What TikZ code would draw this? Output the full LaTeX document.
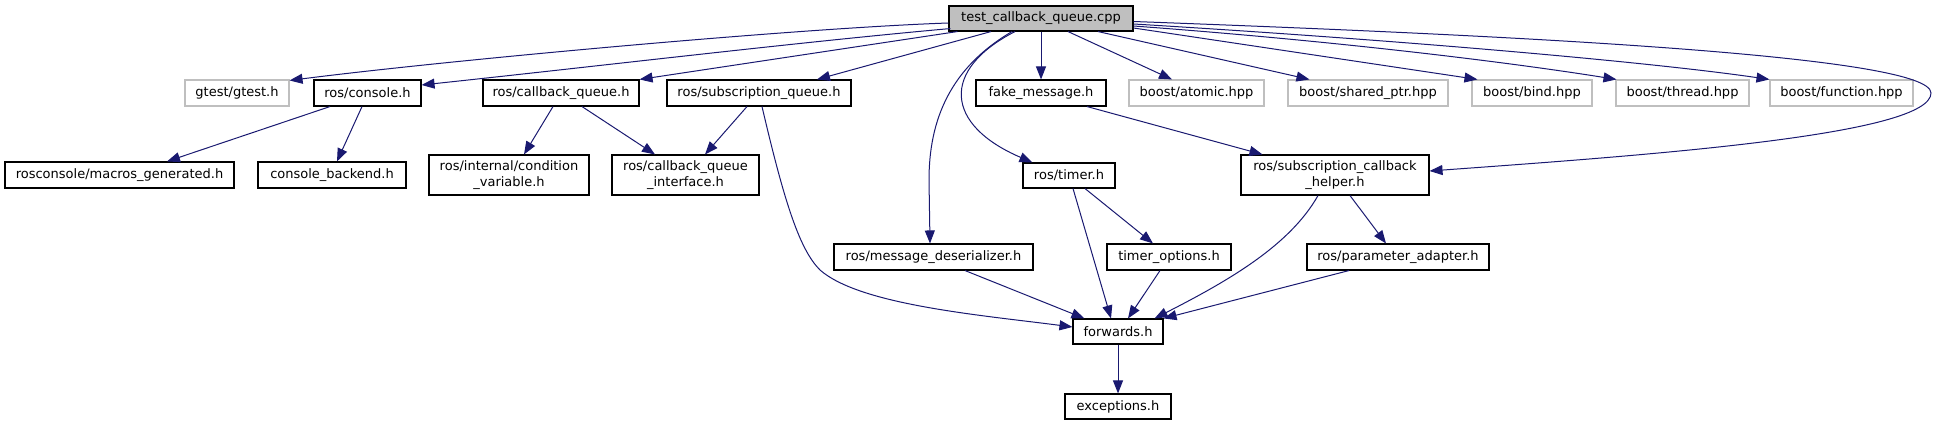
\documentclass[tikz,border=0pt]{standalone}
\usepackage{fontspec}
\setmainfont{DejaVu Sans}
\usetikzlibrary{arrows.meta}
\definecolor{edgec}{HTML}{191970}
\definecolor{grayb}{HTML}{BFBFBF}
\tikzset{
 box/.style={draw=black, line width=1.1pt, fill=white, minimum height=26pt, inner sep=0pt,
   font=\fontsize{13}{15.5}\selectfont, align=center, text=black},
 gbox/.style={box, draw=grayb},
 twol/.style={minimum height=40pt},
 edge/.style={draw=edgec, line width=1pt, -{Triangle[length=13pt,width=10pt]}},
}
\begin{document}
\begin{tikzpicture}[x=1pt,y=-1pt]
\useasboundingbox (0,0) rectangle (1937,425);
% nodes
\node[box, fill=grayb, minimum width=184pt, minimum height=25pt] (cpp) at (1041,18.5) {test\_callback\_queue.cpp};
\node[gbox, minimum width=104pt] (gtest) at (237,93) {gtest/gtest.h};
\node[box, minimum width=107pt] (console) at (367.5,93) {ros/console.h};
\node[box, minimum width=156pt] (cq) at (561,93) {ros/callback\_queue.h};
\node[box, minimum width=184pt] (subq) at (759,93) {ros/subscription\_queue.h};
\node[box, minimum width=130pt] (fake) at (1041,93) {fake\_message.h};
\node[gbox, minimum width=135pt] (atomic) at (1196.5,93) {boost/atomic.hpp};
\node[gbox, minimum width=160pt] (shared) at (1368,93) {boost/shared\_ptr.hpp};
\node[gbox, minimum width=120pt] (bind) at (1532,93) {boost/bind.hpp};
\node[gbox, minimum width=133pt] (thread) at (1682.5,93) {boost/thread.hpp};
\node[gbox, minimum width=143pt] (function) at (1841.5,93) {boost/function.hpp};
\node[box, minimum width=229pt] (macros) at (119.5,175) {rosconsole/macros\_generated.h};
\node[box, minimum width=148pt] (backend) at (332,175) {console\_backend.h};
\node[box, twol, minimum width=160pt] (condvar) at (509,175) {ros/internal/condition\\\_variable.h};
\node[box, twol, minimum width=147pt] (iface) at (685.5,175) {ros/callback\_queue\\\_interface.h};
\node[box, minimum width=92pt, minimum height=25pt] (timer) at (1069,175.5) {ros/timer.h};
\node[box, twol, minimum width=188pt] (sch) at (1335,175) {ros/subscription\_callback\\\_helper.h};
\node[box, minimum width=199pt] (msgd) at (933.5,257) {ros/message\_deserializer.h};
\node[box, minimum width=124pt] (topt) at (1169,257) {timer\_options.h};
\node[box, minimum width=182pt] (param) at (1398,257) {ros/parameter\_adapter.h};
\node[box, minimum width=90pt, minimum height=25pt] (fwd) at (1118,331.5) {forwards.h};
\node[box, minimum width=106pt, minimum height=25pt] (exc) at (1118,406.5) {exceptions.h};
% edges from the root
\draw[edge] ([yshift=-4.5pt]cpp.west) .. controls (800,28) and (450,60) .. ([yshift=-1pt]gtest.north east);
\draw[edge] ([xshift=2pt,yshift=3pt]cpp.south west) .. controls (800,42) and (600,66) .. ([yshift=8pt]console.east);
\draw[edge] ([xshift=9pt]cpp.south west) -- (cq.north east);
\draw[edge] ([xshift=-50pt]cpp.south) -- ([xshift=58pt]subq.north);
\draw[edge] ([xshift=-29pt]cpp.south) .. controls (950,68) and (929,120) .. (929,180) -- ([xshift=-3.5pt]msgd.north);
\draw[edge] ([xshift=-26pt]cpp.south) .. controls (940,70) and (945,125) .. ([xshift=10pt]timer.north west);
\draw[edge] (cpp.south) -- (fake.north);
\draw[edge] ([xshift=27pt]cpp.south) -- ([xshift=-24.5pt]atomic.north);
\draw[edge] ([xshift=57pt]cpp.south) -- ([xshift=22pt]shared.north west);
\draw[edge] ([yshift=-9.5pt]cpp.east) -- ([xshift=6pt]bind.north west);
\draw[edge] ([yshift=-7.5pt]cpp.east) .. controls (1350,42) and (1520,64) .. ([xshift=1pt]thread.north west);
\draw[edge] ([yshift=-5.5pt]cpp.east) .. controls (1400,40) and (1650,62) .. (function.north west);
\draw[edge] ([yshift=-3pt]cpp.east) .. controls (1500,35) and (1931,55) .. (1931,93) .. controls (1931,135) and (1650,155) .. ([yshift=4pt]sch.east);
% lower edges
\draw[edge] ([xshift=-37.5pt]console.south) -- ([xshift=47.5pt]macros.north);
\draw[edge] ([xshift=-5.5pt]console.south) -- ([xshift=5pt]backend.north);
\draw[edge] ([xshift=-8pt]cq.south) -- ([xshift=15pt]condvar.north);
\draw[edge] ([xshift=21pt]cq.south) -- ([xshift=-30.5pt]iface.north);
\draw[edge] ([xshift=-12pt]subq.south) -- ([xshift=19.5pt]iface.north);
\draw[edge] ([xshift=3pt]subq.south) .. controls (785,205) and (800,250) .. (820,270) .. controls (860,305) and (980,315) .. ([yshift=4.5pt]fwd.west);
\draw[edge] ([xshift=46pt]fake.south) -- ([xshift=22pt]sch.north west);
\draw[edge] ([xshift=4pt]timer.south) -- ([xshift=-7pt]fwd.north);
\draw[edge] ([xshift=16pt]timer.south) -- ([xshift=-16pt]topt.north);
\draw[edge] ([xshift=-9pt]topt.south) -- ([xshift=10pt]fwd.north);
\draw[edge] ([xshift=-17pt]sch.south) .. controls (1290,245) and (1230,280) .. ([xshift=-9pt]fwd.north east);
\draw[edge] ([xshift=15pt]sch.south) -- ([xshift=-12pt]param.north);
\draw[edge] ([xshift=-49pt]param.south) -- (fwd.north east);
\draw[edge] ([xshift=31.5pt]msgd.south) -- ([xshift=12pt]fwd.north west);
\draw[edge] (fwd.south) -- (exc.north);
\end{tikzpicture}
\end{document}
